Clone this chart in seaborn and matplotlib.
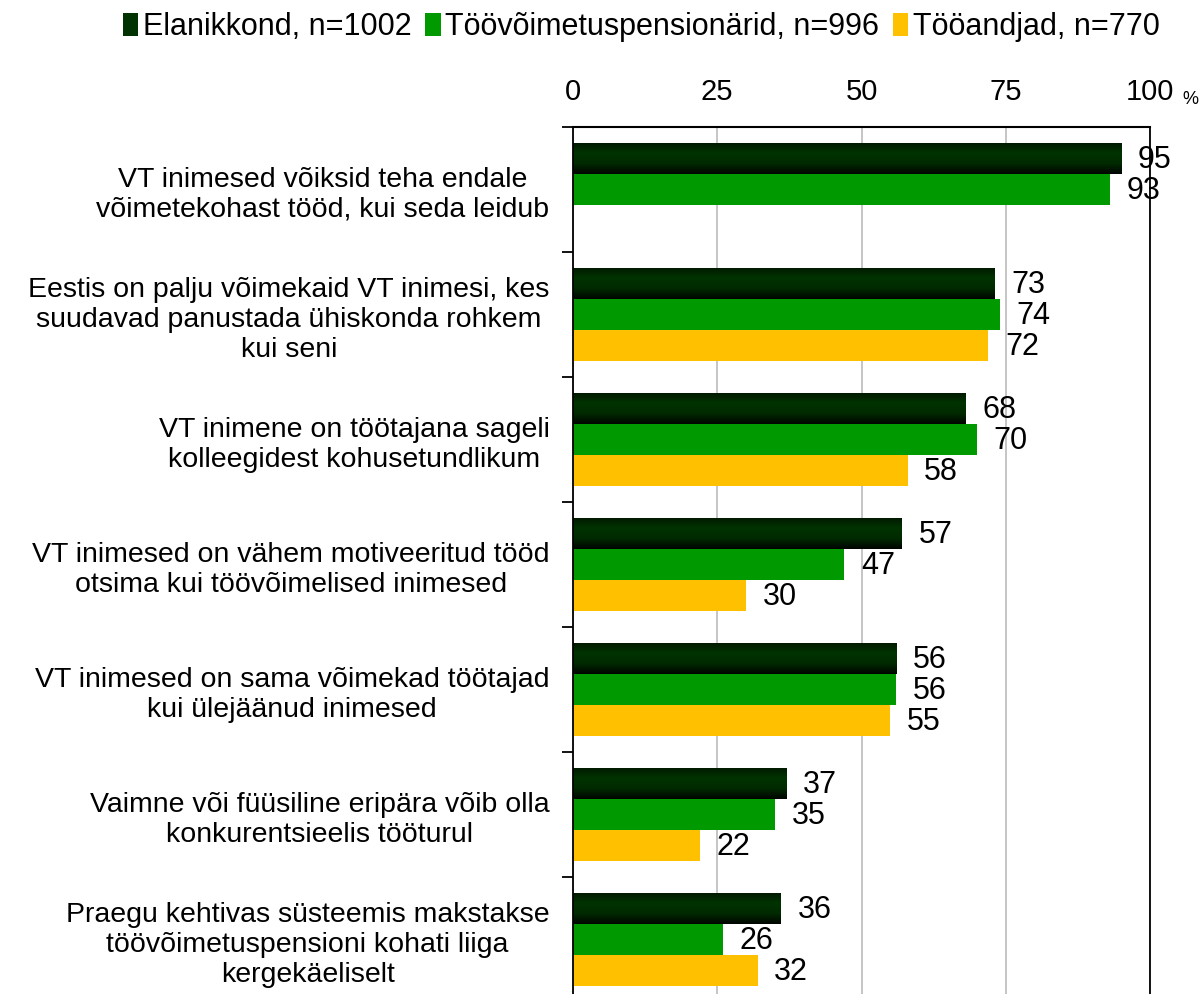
import numpy as np
import pandas as pd
import seaborn as sns
import matplotlib.pyplot as plt
from matplotlib.colors import LinearSegmentedColormap

# Chart data
categories = [
    "VT inimesed võiksid teha endale\nvõimetekohast tööd, kui seda leidub",
    "Eestis on palju võimekaid VT inimesi, kes\nsuudavad panustada ühiskonda rohkem\nkui seni",
    "VT inimene on töötajana sageli\nkolleegidest kohusetundlikum",
    "VT inimesed on vähem motiveeritud tööd\notsima kui töövõimelised inimesed",
    "VT inimesed on sama võimekad töötajad\nkui ülejäänud inimesed",
    "Vaimne või füüsiline eripära võib olla\nkonkurentsieelis tööturul",
    "Praegu kehtivas süsteemis makstakse\ntöövõimetuspensioni kohati liiga\nkergekäeliselt",
]
series = ["Elanikkond, n=1002", "Töövõimetuspensionärid, n=996", "Tööandjad, n=770"]
elanikkond = [95, 73, 68, 57, 56, 37, 36]
pensionarid = [93, 74, 70, 47, 56, 35, 26]
tooandjad = [np.nan, 72, 58, 30, 55, 22, 32]
colors = ["#013201", "#009900", "#FFC000"]

rows = []
for s, vals in zip(series, [elanikkond, pensionarid, tooandjad]):
    for c, v in zip(categories, vals):
        rows.append({"cat": c, "series": s, "value": v})
df = pd.DataFrame(rows)

sns.set_style("white")
plt.rcParams["font.family"] = ["Liberation Sans", "DejaVu Sans"]
plt.rcParams["text.color"] = "black"
plt.rcParams["xtick.color"] = "black"
plt.rcParams["ytick.color"] = "black"

fig = plt.figure(figsize=(12.01, 9.94), dpi=100)
ax = fig.add_axes([573 / 1201, -0.0081, 577 / 1201, 0.8803])

sns.barplot(data=df, y="cat", x="value", hue="series", hue_order=series,
            palette=colors, orient="h", width=0.75, ax=ax, errorbar=None,
            saturation=1, linewidth=0)

# gradient on the dark bars
cmap = LinearSegmentedColormap.from_list("dk", ["#001800", "#003300", "#002a00", "#000500"])
grad = np.linspace(0, 1, 64).reshape(-1, 1)
for p in ax.containers[0]:
    if p is None:
        continue
    x0, y0, w, h = p.get_x(), p.get_y(), p.get_width(), p.get_height()
    if not np.isfinite(w):
        continue
    im = ax.imshow(grad, extent=(x0, x0 + w, y0, y0 + h), origin="lower",
                   cmap=cmap, aspect="auto", zorder=p.get_zorder() + 0.1)
    im.set_clip_path(p)
ax.set_xlim(0, 100)
ax.set_ylim(6.5, -0.5)

# value labels
for cont in ax.containers:
    for p in cont:
        if p is None or not np.isfinite(p.get_width()):
            continue
        ax.annotate(f"{p.get_width():.0f}", (p.get_width(), p.get_y() + p.get_height() / 2),
                    xytext=(12, -1), textcoords="offset points", ha="left", va="center",
                    fontsize=22, color="black")

# axes styling
ax.xaxis.tick_top()
ax.set_xticks([0, 25, 50, 75, 100])
ax.tick_params(axis="x", length=0, pad=15, labelsize=21, labelcolor="black")
ax.grid(axis="x", color="#c0c0c0", linewidth=1.3)
ax.set_axisbelow(True)
ax.set_xlabel("")
ax.set_ylabel("")

ax.set_yticks(np.arange(-0.5, 7, 1), minor=True)
ax.tick_params(axis="y", which="minor", length=8, width=1.3, color="black", left=True)
ax.tick_params(axis="y", which="major", length=0, pad=17, labelcolor="black")
for lab in ax.get_yticklabels():
    lab.set_fontsize(20.5)
    lab.set_multialignment("center")
    lab.set_linespacing(1.2)

for sp in ["left", "top", "right"]:
    ax.spines[sp].set_visible(True)
    ax.spines[sp].set_color("black")
    ax.spines[sp].set_linewidth(1.3)
ax.spines["bottom"].set_visible(False)
ax.spines["top"].set_linewidth(1.5)

fig.text(1182 / 1201, 1 - 100 / 994, "%", fontsize=13, ha="left", va="center")

handles, labs = ax.get_legend_handles_labels()
if ax.get_legend() is not None:
    ax.get_legend().remove()
fig.legend(handles, labs, loc="center", bbox_to_anchor=(0.534, 0.973), ncol=3,
           frameon=False, fontsize=22, handlelength=0.5, handleheight=0.8,
           handletextpad=0.15, columnspacing=0.45)

fig.savefig("out.png", dpi=100)
